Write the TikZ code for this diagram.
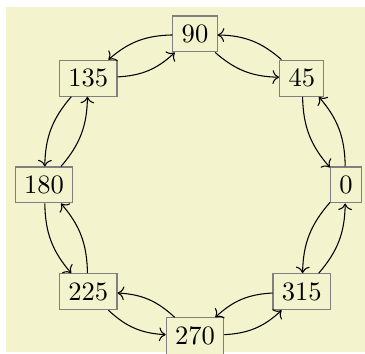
\documentclass[tikz,border=0pt]{standalone}
\usetikzlibrary{arrows.meta}
\definecolor{bgyellow}{RGB}{243,243,206}
\begin{document}
\begin{tikzpicture}[
  anglebox/.style={draw=gray, fill=bgyellow, inner sep=.3333em},
  link/.style={->, bend right=20}
]
\useasboundingbox (-2.583,-2.238) rectangle (2.252,2.450);
\fill[bgyellow] (-2.503,-2.216) rectangle (2.252,2.353);
\foreach \a in {0,45,...,315}
  \node[anglebox] (n\a) at (\a:2cm) {\a};
\foreach \a/\b in {0/45,45/90,90/135,135/180,180/225,225/270,270/315,315/0} {
  \draw[link] (n\a) to (n\b);
  \draw[link] (n\b) to (n\a);
}
\end{tikzpicture}
\end{document}
